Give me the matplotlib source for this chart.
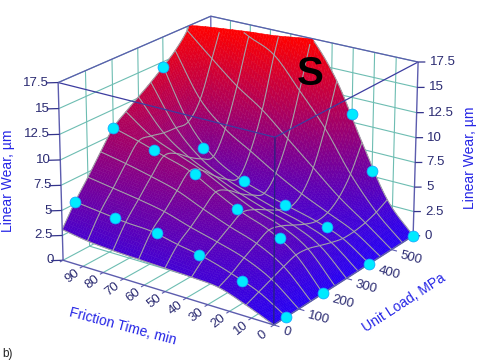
import numpy as np
import matplotlib
matplotlib.use("Agg")
import matplotlib.pyplot as plt
from matplotlib.colors import LinearSegmentedColormap
from mpl_toolkits.mplot3d import proj3d
from mpl_toolkits.mplot3d.art3d import Poly3DCollection

plt.rcParams['font.family'] = ['Liberation Sans', 'DejaVu Sans']

# ---------- data ----------
time_grid = [0, 12.5, 25, 37.5, 50, 62.5, 75, 87.5, 100]
load_grid = [0, 50, 100, 150, 200, 250, 300, 350, 400, 450, 500, 550, 600]
wear_t000 = [0, 0, 0, 0, 0, 0, 0, 0, 0, 0, 0, 0, 0]
wear_t125 = [1.1, 1.6, 2.1, 2.6, 3.0, 2.9, 2.5, 2.1, 1.8, 1.8, 2.0, 2.4, 3.0]
wear_t250 = [2.0, 2.6, 3.4, 4.1, 4.7, 4.4, 3.8, 3.2, 2.8, 3.0, 3.9, 5.6, 8.2]
wear_t375 = [2.2, 3.4, 4.2, 5.0, 5.7, 5.3, 4.6, 3.9, 3.5, 4.2, 6.2, 9.6, 13.8]
wear_t500 = [2.3, 3.9, 4.9, 6.0, 7.0, 6.5, 5.5, 4.7, 4.2, 5.6, 8.5, 12.8, 17.6]
wear_t625 = [2.4, 4.45, 5.7, 7.1, 8.4, 7.8, 6.6, 5.6, 5.1, 7.2, 10.8, 15.8, 20.0]
wear_t750 = [2.5, 4.6, 6.2, 7.8, 9.2, 8.8, 7.8, 7.0, 6.6, 8.8, 12.6, 17.1, 21.0]
wear_t875 = [2.7, 4.9, 6.6, 8.4, 10.0, 9.9, 9.6, 9.5, 9.5, 11.2, 14.8, 18.5, 21.5]
wear_t1000 = [3.1, 5.2, 7.0, 8.9, 10.7, 11.7, 12.6, 13.5, 14.5, 15.6, 17.1, 19.5, 22.0]

point_time = [0, 0, 0, 0, 20, 20, 20, 20, 40, 40, 40, 30, 60, 60, 60, 80, 80, 80, 100, 100, 100]
point_load = [50, 200, 400, 600, 50, 200, 400, 600, 50, 200, 400, 600, 50, 200, 400, 50, 200, 400, 50, 200, 400]
point_wear = [0, 0, 0, 0, 2.2, 4.2, 2.5, 5.5, 3.5, 5.9, 3.6, 10.8, 4.4, 8.2, 4.9, 4.7, 9.5, 7.2, 5.2, 10.7, 14.5]

time_ticks = [0, 10, 20, 30, 40, 50, 60, 70, 80, 90]
load_ticks = [0, 100, 200, 300, 400, 500]
wear_ticks = [0, 2.5, 5, 7.5, 10, 12.5, 15, 17.5]
wear_labels = ['0', '2.5', '5', '7.5', '10', '12.5', '15', '17.5']

T_MAX, L_MAX, Z_MAX = 100.0, 600.0, 17.5

WALL = '#6dbdb2'
FRAME = '#5c5cae'
TICK_TXT = '#2b2b72'
TITLE = '#2626e6'
W, H = 480, 362

# ---------- camera: fitted to the box corners of the reference ----------
corners_unit = np.array([[0, 0, 0], [1, 0, 0], [0, 1, 0],
                         [0, 0, 1], [1, 0, 1], [0, 1, 1], [1, 1, 1]], float)
corners_px = np.array([[274, 325], [63, 260], [413, 236],
                       [275, 137], [58, 83], [418, 62], [211, 16]], float)
rows, rhs = [], []
for (u, v, w), (px, py) in zip(corners_unit, corners_px):
    py = H - py
    rows.append([u, v, w, 1, 0, 0, 0, 0, -px*u, -px*v, -px*w]); rhs.append(px)
    rows.append([0, 0, 0, 0, u, v, w, 1, -py*u, -py*v, -py*w]); rhs.append(py)
p = np.linalg.lstsq(np.array(rows), np.array(rhs), rcond=None)[0]
scale = np.diag([1/T_MAX, 1/L_MAX, 1/Z_MAX, 1.0])
M = np.array([[p[0], p[1], p[2], p[3]],
              [p[4], p[5], p[6], p[7]],
              [1.0, 1.0, -0.6, 0.0],      # depth: far side larger
              [p[8], p[9], p[10], 1.0]]) @ scale

fig = plt.figure(figsize=(W/100, H/100), dpi=100)
ax = fig.add_axes([0, 0, 1, 1], projection='3d', computed_zorder=False)
ax.set_proj_type('ortho')      # no view-volume clipping; the matrix below carries the perspective
ax.apply_aspect = lambda position=None: None
ax.get_proj = lambda: M
ax.set_axis_off()
ax.patch.set_visible(False)


def line(ts, ls, zs, color, lw, z):
    ax.plot(ts, ls, zs, color=color, lw=lw, zorder=z, clip_on=False,
            solid_capstyle='butt')


def label(t, l, z, s, dx, dy, **kw):
    x, y, _ = proj3d.proj_transform(t, l, z, M)
    ax.text2D(x + dx, y + dy, s, transform=ax.transData, clip_on=False, **kw)


# ---------- walls and floor ----------
wall_loads = list(load_ticks) + [600]
wall_times = list(time_ticks) + [100]
for z in wear_ticks[1:]:
    line([100, 100, 0], [0, 600, 600], [z, z, z], WALL, 0.8, 1)
for l in wall_loads[1:-1]:
    line([100, 100], [l, l], [0, 17.5], WALL, 0.8, 1)
    line([0, 100], [l, l], [0, 0], WALL, 0.8, 1)
for t in wall_times[1:-1]:
    line([t, t], [600, 600], [0, 17.5], WALL, 0.8, 1)
    line([t, t], [0, 600], [0, 0], WALL, 0.8, 1)
line([100, 100, 0], [0, 600, 600], [0, 0, 0], WALL, 0.8, 1)
line([100, 100], [600, 600], [0, 17.5], FRAME, 0.9, 1)

# ---------- surface ----------
wear_grid = np.array([wear_t000, wear_t125, wear_t250, wear_t375, wear_t500,
                      wear_t625, wear_t750, wear_t875, wear_t1000])
tg, lg = np.array(time_grid), np.array(load_grid)
SUB_T, SUB_L = 10, 8


def smooth_rows(a, sub):
    """Curved (Catmull-Rom) drawing of each row through its grid values."""
    n = a.shape[1]
    pad = np.column_stack([2*a[:, 0]-a[:, 1], a, 2*a[:, -1]-a[:, -2]])
    out = []
    for k in range(n-1):
        for s in np.arange(sub)/sub:
            p0, p1, p2, p3 = pad[:, k], pad[:, k+1], pad[:, k+2], pad[:, k+3]
            out.append(0.5*(2*p1 + (p2-p0)*s + (2*p0-5*p1+4*p2-p3)*s**2
                            + (3*p1-p0-3*p2+p3)*s**3))
    out.append(a[:, -1])
    return np.array(out).T


tf = np.interp(np.arange(0, (len(tg)-1)*SUB_T+1)/SUB_T, np.arange(len(tg)), tg)
lf = np.interp(np.arange(0, (len(lg)-1)*SUB_L+1)/SUB_L, np.arange(len(lg)), lg)
zf = smooth_rows(wear_grid, SUB_L)
zf = smooth_rows(zf.T, SUB_T).T
zf = np.maximum(zf, 0)


def clip_top(quad):
    out = []
    for a, b in zip(quad, np.roll(quad, -1, axis=0)):
        if a[2] <= Z_MAX:
            out.append(a)
        if (a[2] <= Z_MAX) != (b[2] <= Z_MAX):
            f = (Z_MAX - a[2]) / (b[2] - a[2])
            out.append(a + f*(b - a))
    return out


cmap = LinearSegmentedColormap.from_list('wear', ['#2600f4', '#ff0000'])
verts, cols = [], []
for i in range(len(tf)-1):
    for j in range(len(lf)-1):
        q = np.array([[tf[i], lf[j], zf[i, j]], [tf[i+1], lf[j], zf[i+1, j]],
                      [tf[i+1], lf[j+1], zf[i+1, j+1]], [tf[i], lf[j+1], zf[i, j+1]]])
        if q[:, 2].min() >= Z_MAX:
            continue
        c = clip_top(q) if q[:, 2].max() > Z_MAX else list(q)
        if len(c) < 3:
            continue
        while len(c) < 5:
            c.append(c[-1])
        verts.append(np.array(c))
        cols.append(cmap(min(np.mean(np.array(c)[:, 2]) / Z_MAX, 1.0)))
poly = Poly3DCollection(verts, facecolors=cols, edgecolors=cols, linewidths=0.3,
                        zorder=2, clip_on=False)
ax.add_collection3d(poly, autolim=False)

# mesh lines on the surface
MESH = '#a2a2a8'
for i in range(0, len(tf), SUB_T):
    z = np.where(zf[i] <= Z_MAX, zf[i], np.nan)
    line(np.full_like(lf, tf[i]), lf, z, MESH, 0.8, 3)
for j in range(0, len(lf), SUB_L):
    z = np.where(zf[:, j] <= Z_MAX, zf[:, j], np.nan)
    line(tf, np.full_like(tf, lf[j]), z, MESH, 0.8, 3)

# ---------- frame ----------
line([100, 0, 0], [0, 0, 600], [17.5]*3, '#3c3ca0', 0.9, 4)
line([100, 100, 0], [0, 600, 600], [17.5]*3, FRAME, 0.9, 4)
line([0, 0], [0, 0], [0, 17.5], '#24247e', 0.9, 4)
line([100, 100], [0, 0], [0, 17.5], FRAME, 1.0, 4)
line([0, 0], [600, 600], [0, 17.5], FRAME, 1.0, 4)
line([100, 0, 0], [0, 0, 600], [0, 0, 0], FRAME, 1.0, 4)

# ---------- ticks and labels ----------
for z, s in zip(wear_ticks, wear_labels):
    line([100, 103.6], [0, -18], [z, z], '#34348c', 0.9, 4)
    line([0, -2.3], [600, 610], [z, z], '#34348c', 0.9, 4)
    label(100, 0, z, s, -9.5, 0, ha='right', va='center', fontsize=9.5, color=TICK_TXT)
    label(0, 600, z, s, 11.5, 0, ha='left', va='center', fontsize=9.5, color=TICK_TXT)
for t in time_ticks + [100]:
    line([t, t], [0, -12], [0, 0], FRAME, 0.8, 4)
for t in time_ticks:
    label(t, 0, 0, str(t), -11, -10, ha='center', va='center', fontsize=9.5,
          rotation=38, rotation_mode='anchor', color=TICK_TXT)
for l in load_ticks + [600]:
    line([0, -2.5], [l, l], [0, 0], FRAME, 0.8, 4)
for l in load_ticks:
    label(0, l, 0, str(l), 9, -6, ha='left', va='center', fontsize=9.5,
          rotation=-15, rotation_mode='anchor', color=TICK_TXT)

ax.text2D(8, H-181, 'Linear Wear, µm', transform=ax.transData, rotation=90, ha='center',
          va='center', fontsize=10, color=TITLE)
ax.text2D(470, H-158, 'Linear Wear, µm', transform=ax.transData, rotation=90, ha='center',
          va='center', fontsize=10, color=TITLE)
ax.text2D(123, H-326, 'Friction Time, min', transform=ax.transData, rotation=-15, ha='center',
          va='center', fontsize=10, color=TITLE)
ax.text2D(404, H-303, 'Unit Load, MPa', transform=ax.transData, rotation=33, ha='center',
          va='center', fontsize=10, color=TITLE)
ax.text2D(2, H-354, 'b)', transform=ax.transData, ha='left', va='center', fontsize=8.5,
          color='#222222')
ax.text2D(310, H-74, 'S', transform=ax.transData, ha='center', va='center', fontsize=29,
          fontweight='bold', color='black')

# ---------- measured points ----------
ax.scatter(point_time, point_load, point_wear, s=62, c='#00eaff', edgecolors='#12a0ff',
           linewidths=0.5, depthshade=False, zorder=6, clip_on=False)

ax.viewLim.intervalx = (0, W)
ax.viewLim.intervaly = (0, H)
fig.savefig('out.png', dpi=100)
